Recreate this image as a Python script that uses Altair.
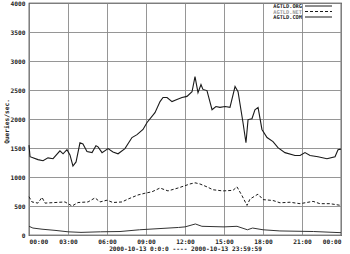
import altair as alt
import pandas as pd

# ---- data ----
com_hours = [0.0, 0.08, 0.69, 1.08, 1.46, 1.85, 2.38, 2.62, 2.92, 3.15, 3.38, 3.62, 3.92, 4.15,
             4.46, 4.85, 5.15, 5.31, 5.62, 6.08, 6.46, 6.85, 7.38, 7.92, 8.31, 8.77, 9.08, 9.69,
             10.08, 10.31, 10.62, 11.0, 11.38, 11.77, 12.15, 12.54, 12.77, 13.0, 13.23, 13.38,
             13.69, 14.08, 14.38, 14.69, 15.08, 15.46, 15.85, 16.08, 16.46, 16.69, 16.85, 17.15,
             17.38, 17.62, 17.92, 18.31, 18.77, 19.15, 19.69, 20.46, 20.85, 21.23, 21.62, 22.23,
             22.92, 23.54, 23.77, 24.0]
com_qps = [1550, 1350, 1300, 1280, 1330, 1315, 1450, 1400, 1470, 1380, 1190, 1260, 1590, 1570,
           1440, 1420, 1540, 1520, 1420, 1490, 1430, 1400, 1490, 1680, 1730, 1820, 1940, 2110,
           2300, 2370, 2370, 2300, 2335, 2370, 2390, 2470, 2730, 2455, 2595, 2510,
           2490, 2160, 2215, 2200, 2215, 2200, 2560, 2470, 1940, 1590, 1990, 2005,
           2160, 2200, 1820, 1680, 1610, 1505, 1420, 1370, 1370, 1420, 1370, 1350,
           1315, 1350, 1470, 1480]

net_hours = [0.0, 0.23, 0.69, 1.0, 1.23, 2.0, 2.77, 3.31, 3.77, 4.54, 5.08, 5.46, 6.0, 6.46,
             7.15, 7.62, 8.38, 8.92, 9.46, 10.08, 10.69, 11.46, 12.0, 12.38, 12.77, 13.15,
             13.69, 14.15, 14.92, 15.69, 16.0, 16.38, 16.77, 17.0, 17.62, 18.0, 18.77, 19.31,
             20.08, 20.85, 21.85, 22.38, 23.15, 24.0]
net_qps = [660, 570, 550, 650, 550, 560, 570, 500, 560, 570, 640, 570, 600, 560,
           570, 620, 690, 720, 745, 810, 760, 810, 850, 880, 900, 880,
           830, 780, 760, 770, 830, 680, 510, 620, 705, 610, 595, 555,
           565, 540, 580, 540, 540, 510]

org_hours = [0.0, 0.3, 1.0, 2.0, 3.0, 4.0, 5.5, 7.0, 8.5, 10.0, 11.5, 12.0, 12.8, 13.3,
             15.0, 16.0, 16.8, 17.2, 18.0, 19.3, 21.9, 24.0]
org_qps = [150, 120, 100, 80, 55, 45, 55, 60, 90, 110, 130, 140, 190, 150,
           140, 150, 90, 120, 90, 70, 60, 40]

x_ticks = [0, 3, 6, 9, 12, 15, 18, 21, 24]
y_ticks = [0, 500, 1000, 1500, 2000, 2500, 3000, 3500, 4000]
legend_labels = ["AGTLD.ORG", "AGTLD.NET", "AGTLD.COM"]
x_title = "2000-10-13 0:0:0 ---- 2000-10-13 23:59:59"
y_title = "Queries/sec."

FONT = "DejaVu Sans Mono"


def frame(h, v):
    return pd.DataFrame({"hour": h, "qps": v})


x_enc = alt.X(
    "hour:Q",
    scale=alt.Scale(domain=[0, 24], nice=False, zero=False),
    axis=alt.Axis(
        values=x_ticks,
        labelExpr="datum.value == 24 ? '00:00' : pad(toString(datum.value), 2, '0', 'left') + ':00'",
        title=x_title,
        titlePadding=1,
        labelPadding=3,
    ),
)
y_enc = alt.Y(
    "qps:Q",
    scale=alt.Scale(domain=[0, 4000], nice=False),
    axis=alt.Axis(
        values=y_ticks,
        format="d",
        title=y_title,
        titleX=-20,
        titleY=118,
        titleAngle=-90,
        titleBaseline="bottom",
        labelPadding=4,
    ),
)

com = alt.Chart(frame(com_hours, com_qps)).mark_line(
    color="#1a1a1a", strokeWidth=1.1
).encode(x=x_enc, y=y_enc)
net = alt.Chart(frame(net_hours, net_qps)).mark_line(
    color="#1a1a1a", strokeWidth=1.0, strokeDash=[3, 2]
).encode(x=x_enc, y=y_enc)
org = alt.Chart(frame(org_hours, org_qps)).mark_line(
    color="#333333", strokeWidth=1.0
).encode(x=x_enc, y=y_enc)

legend_layers = []
legend_y = [3, 8.5, 14]
legend_text_color = ["#222222", "#999999", "#222222"]
legend_dash = [[1, 0], [3, 2], [1, 0]]
for i, lab in enumerate(legend_labels):
    d = pd.DataFrame({"label": [lab]})
    legend_layers.append(
        alt.Chart(d).mark_text(
            align="right", baseline="middle", font=FONT, fontSize=5.3, fontWeight="bold",
            color=legend_text_color[i]
        ).encode(x=alt.value(273), y=alt.value(legend_y[i]), text="label:N")
    )
    legend_layers.append(
        alt.Chart(d).mark_rule(color="#1a1a1a", strokeWidth=1, strokeDash=legend_dash[i]).encode(
            x=alt.value(276), x2=alt.value(303), y=alt.value(legend_y[i])
        )
    )

chart = (
    alt.layer(org, net, com, *legend_layers)
    .properties(
        width=312,
        height=232,
        autosize=alt.AutoSizeParams(type="none"),
        padding={"left": 29, "top": 3, "right": 9, "bottom": 19},
        background="white",
    )
    .configure_view(stroke="#111111", strokeWidth=1.2)
    .configure_axis(
        labelFont=FONT,
        labelFontSize=6.2,
        labelFontWeight="bold",
        labelColor="#222222",
        titleFont=FONT,
        titleFontSize=6.2,
        titleFontWeight="bold",
        titleColor="#222222",
        gridColor="#8a8a8a",
        gridWidth=0.9,
        domain=False,
        ticks=False,
    )
)

chart.save("out.html", embed_options={"renderer": "svg", "actions": False})
